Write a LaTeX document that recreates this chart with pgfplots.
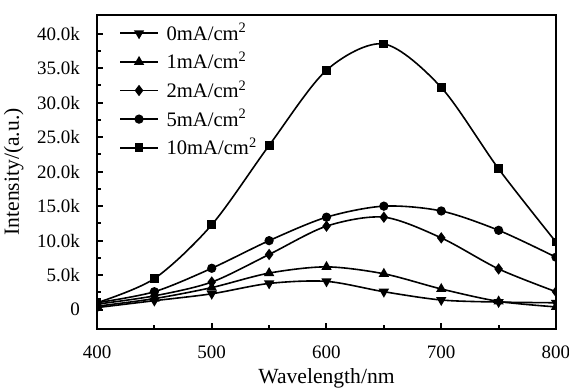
\documentclass[border=0pt]{standalone}
\usepackage{fontspec}
\setmainfont{Liberation Serif}
\usepackage{pgfplots}
\pgfplotsset{compat=1.18}
\newcommand{\ent}[1]{\hspace{2pt}#1mA/cm\textsuperscript{2}}
\begin{document}
\fontsize{10}{12}\selectfont
\begin{tikzpicture}
\begin{axis}[
  scale only axis, width=229.5pt, height=157pt,
  xmin=400, xmax=800, ymin=-2800, ymax=42700,
  xtick={400,500,...,800}, minor x tick num=1,
  ytick={0,5000,10000,15000,20000,25000,30000,35000,40000},
  yticklabels={0,5.0k,10.0k,15.0k,20.0k,25.0k,30.0k,35.0k,40.0k},
  minor y tick num=1,
  scaled y ticks=false,
  tick align=inside, xtick pos=bottom, ytick pos=left,
  axis line style={line width=1.4pt},
  major tick length=3pt, minor tick length=2pt,
  tick style={line width=1pt, black},
  /pgf/number format/assume math mode=true,
  tick label style={font=\fontsize{9.5}{11}\selectfont},
  yticklabel style={xshift=-5pt},
  xticklabel style={yshift=-5pt},
  label style={font=\fontsize{10.8}{13}\selectfont},
  xlabel={Wavelength/nm}, ylabel={Intensity/(a.u.)},
  xlabel style={yshift=2pt},
  clip marker paths=true,
  legend cell align=left,
  legend image code/.code={\draw[mark repeat=2,mark phase=2] plot coordinates {(0cm,0cm) (0.33cm,0cm) (0.66cm,0cm)};},
  legend style={draw=none, fill=none, at={(0.035,1.0)}, anchor=north west, row sep=0.4pt,
    font=\fontsize{10.3}{12}\selectfont},
]
\addplot[black, line width=0.8pt, smooth, mark=triangle*, mark size=2.2pt, mark options={rotate=180, fill=black}] coordinates {
 (400,300) (450,1300) (500,2300) (550,3800) (600,4100) (650,2600) (700,1400) (750,1100) (800,1000)};
\addlegendentry{\ent{0}}
\addplot[black, line width=0.8pt, smooth, mark=triangle*, mark size=2.2pt, mark options={fill=black}] coordinates {
 (400,500) (450,1600) (500,3200) (550,5300) (600,6200) (650,5200) (700,3000) (750,1200) (800,400)};
\addlegendentry{\ent{1}}
\addplot[black, line width=0.8pt, smooth, mark=diamond*, mark size=2.2pt, mark options={fill=black}] coordinates {
 (400,800) (450,2000) (500,4000) (550,8000) (600,12100) (650,13400) (700,10400) (750,5900) (800,2600)};
\addlegendentry{\ent{2}}
\addplot[black, line width=0.8pt, smooth, mark=*, mark size=1.9pt, mark options={fill=black}] coordinates {
 (400,1000) (450,2600) (500,6000) (550,10000) (600,13400) (650,15000) (700,14300) (750,11500) (800,7600)};
\addlegendentry{\ent{5}}
\addplot[black, line width=0.8pt, smooth, mark=square*, mark size=1.8pt, mark options={fill=black}] coordinates {
 (400,1000) (450,4500) (500,12300) (550,23800) (600,34700) (650,38500) (700,32200) (750,20400) (800,9800)};
\addlegendentry{\ent{10}}
\end{axis}
\pgfresetboundingbox
\path ([xshift=-48.5pt, yshift=7.5pt]current axis.north west) rectangle ([xshift=6.5pt, yshift=-29.5pt]current axis.south east);
\end{tikzpicture}
\end{document}
